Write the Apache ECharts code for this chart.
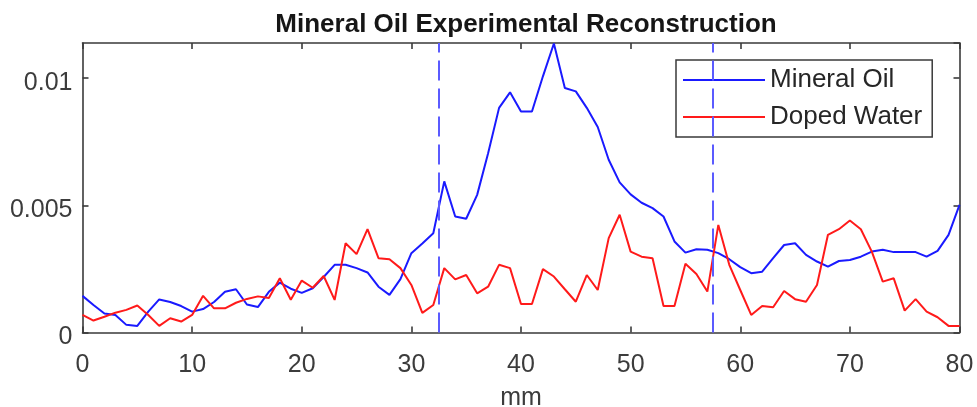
<!DOCTYPE html>
<html>
<head>
<meta charset="utf-8">
<title>Mineral Oil Experimental Reconstruction</title>
<script src="https://cdn.jsdelivr.net/npm/echarts@6/dist/echarts.min.js"></script>
<style>
  html, body { margin: 0; padding: 0; background: #fff; }
  #chart { width: 977px; height: 407px; }
</style>
</head>
<body>
<div id="chart"></div>
<script>
// Sample positions along the profile (mm)
const mm = [
  0, 1, 2, 3, 4, 5, 6, 7, 8, 9,
  10, 11, 12, 13, 14, 15, 16, 17, 18, 19,
  20, 21, 22, 23, 24, 25, 26, 27, 28, 29,
  30, 31, 32, 33, 34, 35, 36, 37, 38, 39,
  40, 41, 42, 43, 44, 45, 46, 47, 48, 49,
  50, 51, 52, 53, 54, 55, 56, 57, 58, 59,
  60, 61, 62, 63, 64, 65, 66, 67, 68, 69,
  70, 71, 72, 73, 74, 75, 76, 77, 78, 79,
  80
];

// Reconstructed values for the mineral oil phantom
const mineralOil = [
  0.00144, 0.00108, 0.00075, 0.00069, 0.00030, 0.00026, 0.00082, 0.00130, 0.00120, 0.00104,
  0.00082, 0.00092, 0.00120, 0.00160, 0.00170, 0.00110, 0.00100, 0.00160, 0.00196, 0.00172,
  0.00156, 0.00174, 0.00218, 0.00266, 0.00266, 0.00253, 0.00236, 0.00180, 0.00148, 0.00210,
  0.00312, 0.00350, 0.00390, 0.00594, 0.00456, 0.00447, 0.00541, 0.00705, 0.00883, 0.00944,
  0.00869, 0.00869, 0.01007, 0.01136, 0.00961, 0.00948, 0.00883, 0.00808, 0.00679, 0.00590,
  0.00543, 0.00510, 0.00489, 0.00456, 0.00358, 0.00314, 0.00327, 0.00325, 0.00312, 0.00288,
  0.00257, 0.00233, 0.00239, 0.00292, 0.00344, 0.00351, 0.00305, 0.00279, 0.00259, 0.00281,
  0.00285, 0.00298, 0.00318, 0.00325, 0.00316, 0.00316, 0.00316, 0.00298, 0.00321, 0.00384,
  0.00502
];

// Reconstructed values for the doped water phantom
const dopedWater = [
  0.00069, 0.00047, 0.00062, 0.00078, 0.00089, 0.00106, 0.00069, 0.00026, 0.00056, 0.00043,
  0.00069, 0.00144, 0.00095, 0.00095, 0.00117, 0.00132, 0.00142, 0.00136, 0.00213, 0.00129,
  0.00204, 0.00176, 0.00222, 0.00128, 0.00351, 0.00308, 0.00406, 0.00292, 0.00288, 0.00253,
  0.00187, 0.00077, 0.00108, 0.00253, 0.00209, 0.00226, 0.00154, 0.00180, 0.00266, 0.00253,
  0.00112, 0.00112, 0.00249, 0.00220, 0.00170, 0.00121, 0.00226, 0.00167, 0.00371, 0.00463,
  0.00318, 0.00298, 0.00292, 0.00104, 0.00104, 0.00270, 0.00230, 0.00161, 0.00423, 0.00266,
  0.00167, 0.00069, 0.00104, 0.00099, 0.00163, 0.00131, 0.00121, 0.00187, 0.00384, 0.00406,
  0.00440, 0.00406, 0.00318, 0.00200, 0.00213, 0.00086, 0.00131, 0.00082, 0.00060, 0.00026,
  0.00026
];

// Edges of the oil region (mm), drawn as dashed markers
const boundaries = [32.5, 57.5];

const seriesNames = ['Mineral Oil', 'Doped Water'];

// Axis limits and tick spacing
const xMin = 0, xMax = 80, xStep = 10;
const yMin = 0, yMax = 0.01138, yStep = 0.005;

const FONT = '"Liberation Sans", Arial, Helvetica, sans-serif';
const AXIS_COLOR = '#3a3a3a';
const TEXT_COLOR = '#3c3c3c';

const chart = echarts.init(document.getElementById('chart'), null, { renderer: 'canvas' });

const pair = (vals) => mm.map((x, i) => [x, vals[i]]);

const boxAxis = (extra) => Object.assign({
  type: 'value',
  axisLine: { show: true, onZero: false, lineStyle: { color: AXIS_COLOR, width: 1.6 } },
  axisTick: { show: true, inside: true, length: 6, lineStyle: { color: AXIS_COLOR, width: 1.6 } },
  splitLine: { show: false }
}, extra);

chart.setOption({
  animation: false,
  backgroundColor: '#ffffff',
  title: {
    text: 'Mineral Oil Experimental Reconstruction',
    left: 521,
    textAlign: 'center',
    top: 7,
    textStyle: { fontFamily: FONT, fontWeight: 'bold', fontSize: 26, color: '#161616' }
  },
  grid: {
    left: 82.5, right: 17.5, top: 43, bottom: 74.5,
    containLabel: false,
    outerBoundsMode: 'none'
  },
  legend: {
    orient: 'vertical',
    left: 676,
    top: 60,
    padding: [7, 10, 7, 7],
    itemGap: 11,
    itemWidth: 82,
    itemHeight: 2,
    icon: 'rect',
    backgroundColor: '#ffffff',
    borderColor: AXIS_COLOR,
    borderWidth: 1.5,
    borderRadius: 0,
    textStyle: { fontFamily: FONT, fontSize: 26, color: '#262626', padding: [0, 0, 0, 0] },
    data: seriesNames
  },
  xAxis: [
    boxAxis({
      position: 'bottom', min: xMin, max: xMax, interval: xStep,
      name: 'mm', nameLocation: 'middle', nameGap: 53,
      nameTextStyle: { fontFamily: FONT, fontSize: 25, color: TEXT_COLOR },
      axisLabel: { fontFamily: FONT, fontSize: 25, color: TEXT_COLOR, margin: 20 }
    }),
    boxAxis({
      position: 'top', min: xMin, max: xMax, interval: xStep,
      axisLabel: { show: false }
    })
  ],
  yAxis: [
    boxAxis({
      position: 'left', min: yMin, max: yMax, interval: yStep,
      axisLabel: {
        fontFamily: FONT, fontSize: 25, color: TEXT_COLOR, margin: 10,
        verticalAlign: 'top',
        lineHeight: 10,
        showMaxLabel: false,
        formatter: (v) => String(+v.toFixed(6))
      }
    }),
    boxAxis({
      position: 'right', min: yMin, max: yMax, interval: yStep,
      axisLabel: { show: false }
    })
  ],
  series: [
    {
      name: seriesNames[0],
      type: 'line',
      xAxisIndex: 0,
      yAxisIndex: 0,
      data: pair(mineralOil),
      symbol: 'none',
      smooth: false,
      color: '#1a1aff',
      lineStyle: { color: '#1a1aff', width: 2 },
      z: 3,
      markLine: {
        silent: true,
        symbol: ['none', 'none'],
        label: { show: false },
        lineStyle: { color: '#5b5bff', width: 2, type: [20, 8] },
        data: boundaries.map((v) => ({ xAxis: v }))
      }
    },
    {
      name: seriesNames[1],
      type: 'line',
      xAxisIndex: 0,
      yAxisIndex: 0,
      data: pair(dopedWater),
      symbol: 'none',
      smooth: false,
      color: '#ff1a1a',
      lineStyle: { color: '#ff1a1a', width: 2 },
      z: 3
    }
  ]
});
</script>
</body>
</html>
